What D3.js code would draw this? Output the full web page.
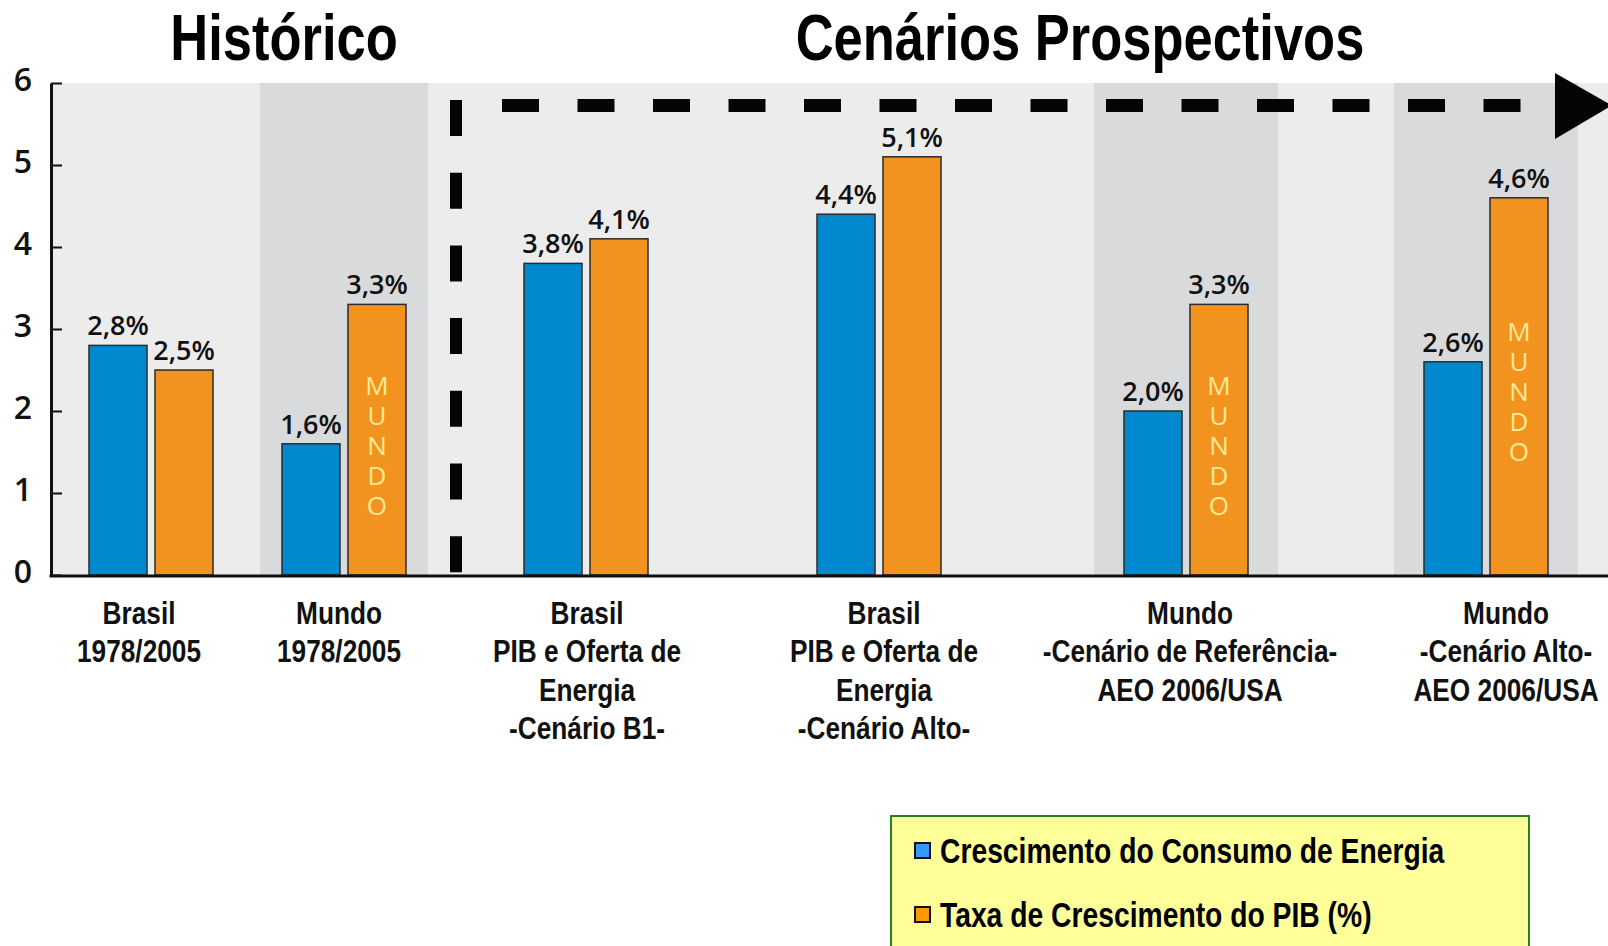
<!DOCTYPE html>
<html lang="pt">
<head>
<meta charset="utf-8">
<script src="https://cdn.jsdelivr.net/npm/d3@7"></script>
<style>
  html, body { margin: 0; padding: 0; background: #ffffff; }
  svg { display: block; }
  .narrow { font-family: "Liberation Sans", Arial, sans-serif; font-weight: 700; }
  .sans { font-family: "Open Sans", "Noto Sans", sans-serif; }
  .vertical { writing-mode: vertical-rl; text-orientation: upright; }
</style>
</head>
<body>
<svg id="chart" width="1608" height="946"></svg>
<script>
// Categories (one group of two bars each)
const categoryKeys = ["brHist", "mdHist", "brB1", "brAlto", "mdRef", "mdAlto"];
const categoryRegion = ["Brasil", "Mundo", "Brasil", "Brasil", "Mundo", "Mundo"];
const categoryEra = ["hist", "hist", "prosp", "prosp", "prosp", "prosp"];
const categoryLabels = [
  ["Brasil", "1978/2005"],
  ["Mundo", "1978/2005"],
  ["Brasil", "PIB e Oferta de", "Energia", "-Cenário B1-"],
  ["Brasil", "PIB e Oferta de", "Energia", "-Cenário Alto-"],
  ["Mundo", "-Cenário de Referência-", "AEO 2006/USA"],
  ["Mundo", "-Cenário Alto-", "AEO 2006/USA"]
];

// Series values (% a.a.)
const consumoEnergia = [2.8, 1.6, 3.8, 4.4, 2.0, 2.6];
const crescimentoPIB = [2.5, 3.3, 4.1, 5.1, 3.3, 4.6];

const seriesKeys = ["consumo", "pib"];
const seriesNames = ["Crescimento do Consumo de Energia", "Taxa de Crescimento do PIB (%)"];

// Axis ticks
const yTicks = [0, 1, 2, 3, 4, 5, 6];

// Section titles
const sectionTitles = ["Histórico", "Cenários Prospectivos"];

// ---- styling ----
const barColors = { consumo: "#0089cf", pib: "#f3931f" };
const legendColors = { consumo: "#3399ff", pib: "#ff9900" };
const bgLight = "#ebeceb";
const bgDark = "#d9dadb";
const condense = 0.82; // horizontal squeeze for the condensed bold lettering

const svg = d3.select("#chart");

const plotLeft = 51, plotRight = 1608, plotTop = 83, plotBottom = 575;

const y = d3.scaleLinear().domain([0, 6]).range([plotBottom, plotTop]);

// group centres along the category axis
const x = d3.scaleOrdinal()
  .domain(categoryKeys)
  .range([151, 344, 586, 879, 1186, 1486]);

// position of each series inside a group
const xSeries = d3.scaleBand()
  .domain(seriesKeys)
  .range([-62, 62])
  .paddingInner(0.1212)
  .paddingOuter(0);

const rows = categoryKeys.map((k, i) => ({
  key: k,
  region: categoryRegion[i],
  era: categoryEra[i],
  labels: categoryLabels[i],
  values: { consumo: consumoEnergia[i], pib: crescimentoPIB[i] }
}));

// plot background
svg.append("rect")
  .attr("x", plotLeft).attr("y", plotTop)
  .attr("width", plotRight - plotLeft).attr("height", plotBottom - plotTop)
  .attr("fill", bgLight);

// darker bands behind the world groups
const bandHalf = { hist: 84, prosp: 92 };
svg.append("g").selectAll("rect")
  .data(rows.filter(d => d.region === "Mundo"))
  .join("rect")
  .attr("x", d => x(d.key) - bandHalf[d.era])
  .attr("y", plotTop)
  .attr("width", d => bandHalf[d.era] * 2)
  .attr("height", plotBottom - plotTop)
  .attr("fill", bgDark);

// bars
const fmt = v => d3.format(".1f")(v).replace(".", ",") + "%";
const barData = rows.flatMap(r => seriesKeys.map(s => ({ row: r, series: s, value: r.values[s] })));

const bars = svg.append("g");
bars.selectAll("rect")
  .data(barData)
  .join("rect")
  .attr("x", d => x(d.row.key) + xSeries(d.series))
  .attr("y", d => y(d.value))
  .attr("width", xSeries.bandwidth())
  .attr("height", d => y(0) - y(d.value))
  .attr("fill", d => barColors[d.series])
  .attr("stroke", "#2b2b2b")
  .attr("stroke-width", 1.5);

// value labels
bars.selectAll("text.val")
  .data(barData)
  .join("text")
  .attr("class", "val sans")
  .attr("x", d => x(d.row.key) + xSeries(d.series) + xSeries.bandwidth() / 2)
  .attr("y", d => y(d.value) - 10)
  .attr("text-anchor", "middle")
  .attr("font-size", 27)
  .attr("font-weight", 600)
  .attr("fill", "#111")
  .text(d => fmt(d.value));

// vertical "MUNDO" inside world GDP bars
const mundoWord = "MUNDO";
const mundoBars = barData.filter(d => d.row.region === "Mundo" && d.series === "pib");
svg.append("g").selectAll("text")
  .data(mundoBars)
  .join("text")
  .attr("class", "sans vertical")
  .attr("x", d => x(d.row.key) + xSeries(d.series) + xSeries.bandwidth() / 2)
  .attr("y", d => (y(d.value) + y(0)) / 2 + 2)
  .attr("text-anchor", "middle")
  .attr("font-size", 26)
  .attr("font-weight", 500)
  .attr("letter-spacing", -6)
  .attr("fill", "#ffea94")
  .text(mundoWord);

// dashed separator between history and scenarios, with arrow
const sepX = 456, sepY = 105.5;
svg.append("line")
  .attr("x1", sepX).attr("x2", sepX)
  .attr("y1", 100).attr("y2", plotBottom)
  .attr("stroke", "#050505").attr("stroke-width", 12)
  .attr("stroke-dasharray", "36,36.7");
svg.append("line")
  .attr("x1", 502).attr("x2", 1555)
  .attr("y1", sepY).attr("y2", sepY)
  .attr("stroke", "#050505").attr("stroke-width", 13)
  .attr("stroke-dasharray", "37,38.5");
svg.append("path")
  .attr("d", d3.line()([[1555, 73], [1612, sepY], [1555, 139]]) + "Z")
  .attr("fill", "#050505");

// y axis
const yAxis = d3.axisLeft(y)
  .tickValues(yTicks)
  .tickFormat(d3.format("d"))
  .tickSizeInner(-11)
  .tickSizeOuter(0)
  .tickPadding(19);
const ax = svg.append("g")
  .attr("transform", `translate(${plotLeft},0)`)
  .call(yAxis);
ax.select(".domain").attr("stroke", "#111").attr("stroke-width", 3);
ax.selectAll(".tick line").attr("stroke", "#111").attr("stroke-width", 2);
ax.selectAll(".tick text")
  .attr("class", "sans")
  .attr("font-size", 32)
  .attr("font-weight", 600)
  .attr("fill", "#111")
  .attr("dy", "0.22em");

// baseline
svg.append("line")
  .attr("x1", plotLeft - 1.5).attr("x2", plotRight)
  .attr("y1", plotBottom + 1).attr("y2", plotBottom + 1)
  .attr("stroke", "#111").attr("stroke-width", 3);

// category labels (condensed)
const labelShift = [-12, -5, 1, 5, 4, 20];
const cat = svg.append("g").selectAll("text")
  .data(rows)
  .join("text")
  .attr("class", "narrow")
  .attr("text-anchor", "middle")
  .attr("font-size", 32)
  .attr("fill", "#111")
  .attr("transform", (d, i) => `translate(${x(d.key) + labelShift[i]},624) scale(${condense},1)`);
cat.selectAll("tspan")
  .data(d => d.labels)
  .join("tspan")
  .attr("x", 0)
  .attr("y", (d, i) => i * 38.5)
  .text(d => d);

// section titles
const titlePos = [284, 1080];
svg.append("g").selectAll("text")
  .data(sectionTitles)
  .join("text")
  .attr("class", "narrow")
  .attr("transform", (d, i) => `translate(${titlePos[i]},60) scale(${condense},1)`)
  .attr("text-anchor", "middle")
  .attr("font-size", 64)
  .attr("fill", "#000")
  .text(d => d);

// legend
const legend = svg.append("g");
legend.append("rect")
  .attr("x", 891).attr("y", 816)
  .attr("width", 638).attr("height", 150)
  .attr("fill", "#ffff99")
  .attr("stroke", "#2a7d2a")
  .attr("stroke-width", 2);
const li = legend.selectAll("g.item")
  .data(seriesKeys.map((k, i) => ({ key: k, name: seriesNames[i], i })))
  .join("g")
  .attr("class", "item")
  .attr("transform", d => `translate(915,${843 + d.i * 64})`);
li.append("rect")
  .attr("width", 15).attr("height", 15)
  .attr("fill", d => legendColors[d.key])
  .attr("stroke", "#111")
  .attr("stroke-width", 2);
li.append("text")
  .attr("class", "narrow")
  .attr("transform", `translate(25,7.5) scale(${condense},1)`)
  .attr("dy", "0.36em")
  .attr("font-size", 34.5)
  .attr("fill", "#000")
  .text(d => d.name);
</script>
</body>
</html>
